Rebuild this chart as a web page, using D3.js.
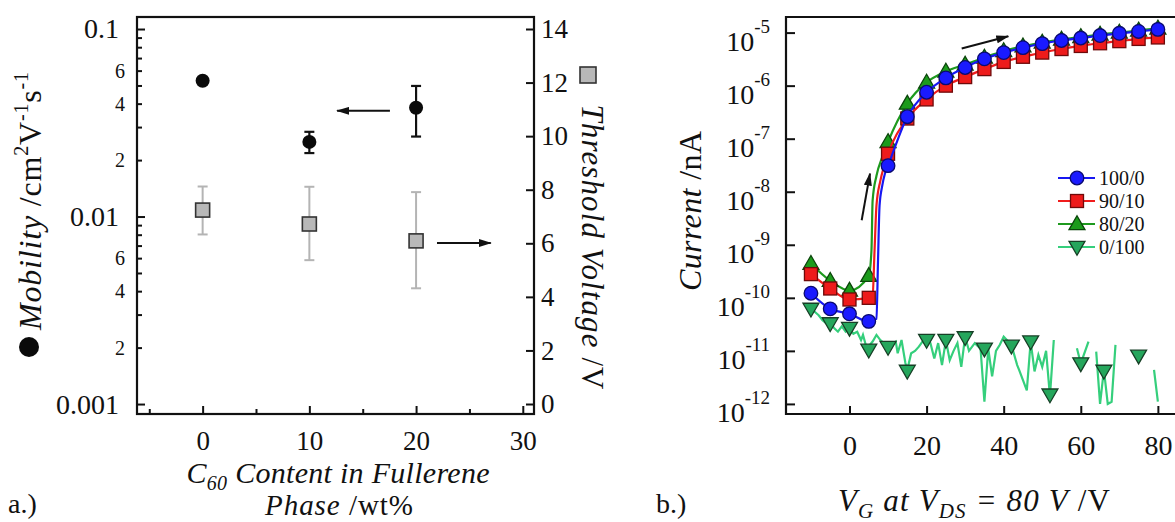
<!DOCTYPE html>
<html>
<head>
<meta charset="utf-8">
<script src="https://cdn.jsdelivr.net/npm/d3@7"></script>
<style>
    body { margin: 0; background: #fff; }
    svg { display: block; font-family: "Liberation Serif", "DejaVu Serif", serif; }
</style>
</head>
<body>
<svg id="chart" width="1175" height="522"></svg>
<script>
// ---------- panel a: mobility / threshold vs C60 content ----------
const c60Content = [0, 10, 20];
const mobility = [0.053, 0.025, 0.038];
const mobilityLow = [null, 0.0218, 0.0267];
const mobilityHigh = [null, 0.0283, 0.0497];
const thresholdV = [7.24, 6.72, 6.09];
const thresholdLow = [6.33, 5.37, 4.32];
const thresholdHigh = [8.12, 8.11, 7.91];

const mobMajorTicks = [0.001, 0.01, 0.1];
const mobLabelledMinor = [0.002, 0.004, 0.006, 0.02, 0.04, 0.06];
const mobPlainMinor = [0.003, 0.005, 0.007, 0.008, 0.009, 0.03, 0.05, 0.07, 0.08, 0.09];
const vthTicks = [0, 2, 4, 6, 8, 10, 12, 14];
const c60Ticks = [0, 10, 20, 30];
const c60Minor = [-5, 5, 15, 25];

// annotation arrows (data coords): [x1, x2, y]
const mobArrow = [17.55, 12.6, 0.0366];
const vthArrow = [21.96, 27.0, 6.01];

// ---------- panel b: transfer curves ----------
const gateV = [-10, -5, 0, 5, 10, 15, 20, 25, 30, 35, 40, 45, 50, 55, 60, 65, 70, 75, 80];
const current100 = [1.22e-10, 6.2e-11, 5.0e-11, 3.6e-11, 3.1e-8, 2.6e-7, 7.5e-7, 1.4e-6, 2.2e-6, 3.2e-6,
    4.2e-6, 5.2e-6, 6.2e-6, 7.1e-6, 7.9e-6, 8.8e-6, 9.7e-6, 1.05e-5, 1.15e-5];
const current90 = [2.8e-10, 1.5e-10, 9.3e-11, 1.0e-10, 5.2e-8, 2.4e-7, 5.5e-7, 1.0e-6, 1.45e-6, 2.05e-6,
    2.8e-6, 3.5e-6, 4.2e-6, 4.9e-6, 5.6e-6, 6.3e-6, 6.9e-6, 7.6e-6, 8.1e-6];
const current80 = [4.4e-10, 2.1e-10, 1.37e-10, 2.6e-10, 8.7e-8, 4.6e-7, 1.15e-6, 1.85e-6, 2.5e-6, 3.4e-6,
    4.5e-6, 5.5e-6, 6.5e-6, 7.4e-6, 8.3e-6, 9.2e-6, 1.0e-5, 1.1e-5, 1.2e-5];

// extra line-only points in the switch-on region
const rise100V = [6, 7, 7.4, 7.8, 8.5, 9.2];
const rise100I = [3.8e-11, 4.0e-11, 5e-10, 5.5e-9, 1.3e-8, 2.2e-8];
const rise90V = [6, 6.5, 7, 8, 9];
const rise90I = [1.1e-10, 7.8e-10, 5.5e-9, 1.6e-8, 3.1e-8];
const rise80V = [5.7, 6, 7, 8.5];
const rise80I = [7.8e-10, 6.8e-9, 2e-8, 4.5e-8];

// 0/100 noisy trace (null = gap in the line)
const noiseV = [-10, -8, -7, -6, -5, -4, -3, -2, -1, 0, 1, 2, 3, 3.5, 4.5, 6, 7, 8, 10, 12, 12.5, 13.5, 14.5, 15,
    16, 17, 18, 19.5, 20, 21, 22, 23, 24, 25, 26, 27, 28, 29, 30, 31, 32.5, 34, 35, 36, 37, 38, 39, 40,
    42, 43.5, 44, 46, 47, 48, 49, 50, 51, 52, 53, 56, 59, 60, 62, 63, 64, 65, 66, 67, 68, 69, 72, 79, 80];
const noiseI = [6.3e-11, 4.7e-11, 3.8e-11, 3.3e-11, 3.3e-11, 2.7e-11, 2.3e-11, 2.9e-11, 2.3e-11, 2.7e-11,
    2.1e-11, 2.3e-11, 1.6e-11, 2.0e-11, 1.1e-11, 1.5e-11, 2.0e-11, 1.6e-11, 1.2e-11, 1.5e-11, 9.0e-12,
    1.6e-11, 5.9e-12, 4.4e-12, 9.0e-12, 1.0e-11, 1.2e-11, 1.7e-11, 1.6e-11, 1.4e-11, 7.2e-12, 1.4e-11,
    5.4e-12, 1.6e-11, 6.7e-12, 1.0e-11, 1.4e-11, 5.0e-12, 1.85e-11, 1.0e-11, 1.4e-11, 1.1e-11, 1.1e-12,
    1.1e-11, 3.3e-12, 1.0e-11, 1.3e-11, 1.85e-11, 1.3e-11, 5.4e-12, 4.4e-12, 1.8e-12, 1.5e-11, 4.1e-12,
    8.4e-12, 5.0e-12, 1.0e-11, 1.4e-12, 1.6e-11, null, 1.12e-11, 5.8e-12, 1.5e-11, null, 9.7e-12, 1.0e-12,
    4.4e-12, 1.0e-12, 1.1e-12, 1.3e-11, null, 4.4e-12, 1.1e-12];
const noiseMarkV = [-10, -5, 0, 5, 10, 15, 20, 25, 30, 35, 42, 47, 52, 60, 66, 75];
const noiseMarkI = [6.2e-11, 3.3e-11, 2.7e-11, 1.05e-11, 1.18e-11, 4.2e-12, 1.6e-11, 1.6e-11, 1.8e-11,
    1.1e-11, 1.25e-11, 1.5e-11, 1.5e-12, 5.8e-12, 4.2e-12, 8.1e-12];

const currentTicks = [1e-12, 1e-11, 1e-10, 1e-9, 1e-8, 1e-7, 1e-6, 1e-5];
const gateTicks = [0, 20, 40, 60, 80];
const legendLabels = ['100/0', '90/10', '80/20', '0/100'];

// arrows: [v1, i1, v2, i2]
const riseArrow = [3.16, 2.9e-9, 5.32, 2.2e-8];
const satArrow = [29.1, 5.0e-6, 41.2, 8.5e-6];

const svg = d3.select('#chart');

svg.append('defs').append('marker')
    .attr('id', 'arrow')
    .attr('markerUnits', 'userSpaceOnUse')
    .attr('markerWidth', 13).attr('markerHeight', 8)
    .attr('refX', 12).attr('refY', 4)
    .attr('orient', 'auto')
    .append('path').attr('d', 'M0,0 L13,4 L0,8 Z').attr('fill', '#111');

/** style an axis group: serif text, no domain line */
function styleAxis(g, size) {
    g.select('.domain').remove();
    g.attr('font-family', null).attr('font-size', size);
    g.selectAll('line').attr('stroke', '#111').attr('stroke-width', 2);
    g.selectAll('text').attr('fill', '#111');
}

// ================= panel a =================
const ax = d3.scaleLinear().domain([-6.15, 31.05]).range([137, 534]);
const ayMob = d3.scaleLog().domain([0.000885, 0.1159]).range([414, 17]);
const ayVth = d3.scaleLinear().domain([-0.373, 14.448]).range([414, 17]);

svg.append('g').attr('transform', 'translate(137,0)')
    .call(d3.axisLeft(ayMob).tickValues(mobMajorTicks).tickSizeInner(-8).tickSizeOuter(0)
        .tickPadding(18).tickFormat(d => String(d)))
    .call(g => styleAxis(g, 28));
svg.append('g').attr('transform', 'translate(137,0)')
    .call(d3.axisLeft(ayMob).tickValues(mobLabelledMinor).tickSizeInner(-5).tickSizeOuter(0)
        .tickPadding(12).tickFormat(d => String(Math.round(d / Math.pow(10, Math.floor(Math.log10(d) + 1e-9))))))
    .call(g => styleAxis(g, 20));
svg.append('g').attr('transform', 'translate(137,0)')
    .call(d3.axisLeft(ayMob).tickValues(mobPlainMinor).tickSizeInner(-5).tickSizeOuter(0).tickFormat(''))
    .call(g => styleAxis(g, 10));

svg.append('g').attr('transform', 'translate(534,0)')
    .call(d3.axisRight(ayVth).tickValues(vthTicks).tickSizeInner(-8).tickSizeOuter(0).tickPadding(7))
    .call(g => styleAxis(g, 27));

svg.append('g').attr('transform', 'translate(0,414)')
    .call(d3.axisBottom(ax).tickValues(c60Ticks).tickSizeInner(-8).tickSizeOuter(0).tickPadding(17))
    .call(g => styleAxis(g, 27));
svg.append('g').attr('transform', 'translate(0,414)')
    .call(d3.axisBottom(ax).tickValues(c60Minor).tickSizeInner(-5).tickSizeOuter(0).tickFormat(''))
    .call(g => styleAxis(g, 10));

// frame
svg.append('rect')
    .attr('x', ax.range()[0]).attr('y', ayMob.range()[1])
    .attr('width', ax.range()[1] - ax.range()[0])
    .attr('height', ayMob.range()[0] - ayMob.range()[1])
    .attr('fill', 'none').attr('stroke', '#111').attr('stroke-width', 2.2);

// threshold error bars + squares
let vthData = c60Content.map((c, i) => ({x: c, y: thresholdV[i], lo: thresholdLow[i], hi: thresholdHigh[i]}));
let vthG = svg.append('g');
vthG.selectAll('line.bar').data(vthData).enter().append('line')
    .attr('x1', d => ax(d.x)).attr('x2', d => ax(d.x))
    .attr('y1', d => ayVth(d.lo)).attr('y2', d => ayVth(d.hi))
    .attr('stroke', '#b4b4b4').attr('stroke-width', 2);
['lo', 'hi'].forEach(k => {
    vthG.selectAll('line.cap' + k).data(vthData).enter().append('line')
        .attr('x1', d => ax(d.x) - 5).attr('x2', d => ax(d.x) + 5)
        .attr('y1', d => ayVth(d[k])).attr('y2', d => ayVth(d[k]))
        .attr('stroke', '#b4b4b4').attr('stroke-width', 2);
});
vthG.selectAll('rect').data(vthData).enter().append('rect')
    .attr('x', d => ax(d.x) - 7).attr('y', d => ayVth(d.y) - 7)
    .attr('width', 14).attr('height', 14)
    .attr('fill', '#b8b8b8').attr('stroke', '#333').attr('stroke-width', 1.6);

// mobility error bars + circles
let mobData = c60Content.map((c, i) => ({x: c, y: mobility[i], lo: mobilityLow[i], hi: mobilityHigh[i]}));
let mobG = svg.append('g');
let mobErr = mobData.filter(d => d.lo != null);
mobG.selectAll('line.bar').data(mobErr).enter().append('line')
    .attr('x1', d => ax(d.x)).attr('x2', d => ax(d.x))
    .attr('y1', d => ayMob(d.lo)).attr('y2', d => ayMob(d.hi))
    .attr('stroke', '#111').attr('stroke-width', 2.2);
['lo', 'hi'].forEach(k => {
    mobG.selectAll('line.cap' + k).data(mobErr).enter().append('line')
        .attr('x1', d => ax(d.x) - 5).attr('x2', d => ax(d.x) + 5)
        .attr('y1', d => ayMob(d[k])).attr('y2', d => ayMob(d[k]))
        .attr('stroke', '#111').attr('stroke-width', 2.2);
});
mobG.selectAll('circle').data(mobData).enter().append('circle')
    .attr('cx', d => ax(d.x)).attr('cy', d => ayMob(d.y)).attr('r', 7)
    .attr('fill', '#0a0a0a');

// arrows
svg.append('line')
    .attr('x1', ax(mobArrow[0])).attr('x2', ax(mobArrow[1]))
    .attr('y1', ayMob(mobArrow[2])).attr('y2', ayMob(mobArrow[2]))
    .attr('stroke', '#111').attr('stroke-width', 2).attr('marker-end', 'url(#arrow)');
svg.append('line')
    .attr('x1', ax(vthArrow[0])).attr('x2', ax(vthArrow[1]))
    .attr('y1', ayVth(vthArrow[2])).attr('y2', ayVth(vthArrow[2]))
    .attr('stroke', '#111').attr('stroke-width', 2).attr('marker-end', 'url(#arrow)');

// axis titles panel a
let mobTitle = svg.append('text')
    .attr('transform', 'translate(41,201) rotate(-90)')
    .attr('text-anchor', 'middle').attr('font-size', 32).attr('fill', '#111')
    .attr('textLength', 258).attr('lengthAdjust', 'spacing');
mobTitle.append('tspan').attr('font-style', 'italic').text('Mobility');
mobTitle.append('tspan').text(' /cm');
mobTitle.append('tspan').attr('font-size', 20).attr('dy', -13).text('2');
mobTitle.append('tspan').attr('dy', 13).text('V');
mobTitle.append('tspan').attr('font-size', 20).attr('dy', -13).text('-1');
mobTitle.append('tspan').attr('dy', 13).text('s');
mobTitle.append('tspan').attr('font-size', 20).attr('dy', -13).text('-1');
svg.append('circle').attr('cx', 29).attr('cy', 347).attr('r', 10).attr('fill', '#0a0a0a');

let vthTitle = svg.append('text')
    .attr('transform', 'translate(582,247) rotate(90)')
    .attr('text-anchor', 'middle').attr('font-size', 31).attr('fill', '#111')
    .attr('textLength', 285).attr('lengthAdjust', 'spacing');
vthTitle.append('tspan').attr('font-style', 'italic').text('Threshold Voltage');
vthTitle.append('tspan').text(' /V');
svg.append('rect').attr('x', 580).attr('y', 67).attr('width', 16).attr('height', 16)
    .attr('fill', '#b8b8b8').attr('stroke', '#333').attr('stroke-width', 1.6);

let c60Title = svg.append('text').attr('x', 338).attr('y', 483)
    .attr('text-anchor', 'middle').attr('font-size', 30).attr('font-style', 'italic').attr('fill', '#111')
    .attr('textLength', 303).attr('lengthAdjust', 'spacing');
c60Title.append('tspan').text('C');
c60Title.append('tspan').attr('font-size', 20).attr('dy', 7).text('60');
c60Title.append('tspan').attr('dy', -7).text(' Content in Fullerene');
let c60Title2 = svg.append('text').attr('x', 339).attr('y', 515)
    .attr('text-anchor', 'middle').attr('font-size', 29).attr('fill', '#111')
    .attr('textLength', 148).attr('lengthAdjust', 'spacing');
c60Title2.append('tspan').attr('font-style', 'italic').text('Phase');
c60Title2.append('tspan').text(' /wt%');

svg.append('text').attr('x', 8).attr('y', 513).attr('font-size', 28).attr('fill', '#111').text('a.)');

// ================= panel b =================
const bx = d3.scaleLinear().domain([-16.47, 84.7]).range([786, 1176]);
const by = d3.scaleLog().domain([Math.pow(10, -12.19), Math.pow(10, -4.706)]).range([414, 17]);

svg.append('g').attr('transform', 'translate(786,0)')
    .call(d3.axisLeft(by).tickValues(currentTicks).tickSizeInner(-9).tickSizeOuter(0).tickFormat(''))
    .call(g => styleAxis(g, 10));
let yLabels = svg.append('g').attr('fill', '#111');
currentTicks.forEach(t => {
    let txt = yLabels.append('text').attr('x', 770).attr('y', by(t) + 18)
        .attr('text-anchor', 'end').attr('font-size', 28);
    txt.append('tspan').text('10');
    txt.append('tspan').attr('font-size', 19).attr('dy', -18).text(String(Math.round(Math.log10(t))));
});

svg.append('g').attr('transform', 'translate(0,414)')
    .call(d3.axisBottom(bx).tickValues(gateTicks).tickSizeInner(-8).tickSizeOuter(0).tickPadding(21))
    .call(g => styleAxis(g, 28));

svg.append('path')
    .attr('d', `M1176,${by.range()[1]} H${bx.range()[0]} V${by.range()[0]} H1176`)
    .attr('fill', 'none').attr('stroke', '#111').attr('stroke-width', 2.2);

let series = [
    {name: '80/20', i: current80, rv: rise80V, ri: rise80I, line: '#1e9a1e', fill: '#1c9b1c', edge: '#0b450b', shape: 'up'},
    {name: '90/10', i: current90, rv: rise90V, ri: rise90I, line: '#f01c1c', fill: '#ee1b1b', edge: '#6e0a0a', shape: 'square'},
    {name: '100/0', i: current100, rv: rise100V, ri: rise100I, line: '#1717f2', fill: '#1a1aff', edge: '#0a0a70', shape: 'circle'}
];

const line = d3.line().x(d => bx(d.v)).y(d => by(d.i)).curve(d3.curveMonotoneX);
const triUp = d3.symbol().type(d3.symbolTriangle).size(110);

function drawMarker(g, shape, fill, edge) {
    if (shape === 'circle') {
        g.append('circle').attr('r', 6.8);
    } else if (shape === 'square') {
        g.append('rect').attr('x', -6.5).attr('y', -6.5).attr('width', 13).attr('height', 13);
    } else if (shape === 'up') {
        g.append('path').attr('d', triUp()).attr('transform', 'translate(0,1)');
    } else {
        g.append('path').attr('d', triUp()).attr('transform', 'rotate(180) translate(0,1)');
    }
    g.selectAll('*').attr('fill', fill).attr('stroke', edge).attr('stroke-width', 1.3);
}

// 0/100 trace first
let noiseData = noiseV.map((v, k) => ({v: v, i: noiseI[k]}));
svg.append('path')
    .datum(noiseData)
    .attr('d', d3.line().defined(d => d.i != null).x(d => bx(d.v)).y(d => by(d.i)))
    .attr('fill', 'none').attr('stroke', '#35cf7c').attr('stroke-width', 2.2);
noiseMarkV.forEach((v, k) => {
    let g = svg.append('g').attr('transform', `translate(${bx(v)},${by(noiseMarkI[k])})`);
    drawMarker(g, 'down', '#25a65c', '#173f26');
});

series.forEach(s => {
    let pts = gateV.map((v, k) => ({v: v, i: s.i[k]}))
        .concat(s.rv.map((v, k) => ({v: v, i: s.ri[k]})))
        .sort((a, b) => a.v - b.v);
    svg.append('path').datum(pts).attr('d', line)
        .attr('fill', 'none').attr('stroke', s.line).attr('stroke-width', 2.2);
    gateV.forEach((v, k) => {
        let g = svg.append('g').attr('transform', `translate(${bx(v)},${by(s.i[k])})`);
        drawMarker(g, s.shape, s.fill, s.edge);
    });
});

// arrows panel b
svg.append('line')
    .attr('x1', bx(riseArrow[0])).attr('y1', by(riseArrow[1]))
    .attr('x2', bx(riseArrow[2])).attr('y2', by(riseArrow[3]))
    .attr('stroke', '#111').attr('stroke-width', 2).attr('marker-end', 'url(#arrow)');
svg.append('line')
    .attr('x1', bx(satArrow[0])).attr('y1', by(satArrow[1]))
    .attr('x2', bx(satArrow[2])).attr('y2', by(satArrow[3]))
    .attr('stroke', '#111').attr('stroke-width', 2).attr('marker-end', 'url(#arrow)');

// legend
let legendStyle = [
    {shape: 'circle', line: '#1717f2', fill: '#1a1aff', edge: '#0a0a70'},
    {shape: 'square', line: '#f01c1c', fill: '#ee1b1b', edge: '#6e0a0a'},
    {shape: 'up', line: '#1e9a1e', fill: '#1c9b1c', edge: '#0b450b'},
    {shape: 'down', line: '#35cf7c', fill: '#25a65c', edge: '#173f26'}
];
let legend = svg.append('g').attr('transform', 'translate(1058,178)');
legendLabels.forEach((lab, k) => {
    let row = legend.append('g').attr('transform', `translate(0,${k * 23})`);
    row.append('line').attr('x1', 0).attr('x2', 37).attr('y1', 0).attr('y2', 0)
        .attr('stroke', legendStyle[k].line).attr('stroke-width', 2.2);
    drawMarker(row.append('g').attr('transform', 'translate(19,0)'),
        legendStyle[k].shape, legendStyle[k].fill, legendStyle[k].edge);
    row.append('text').attr('x', 41).attr('y', 7).attr('font-size', 20).attr('fill', '#111').text(lab);
});

// axis titles panel b
let curTitle = svg.append('text')
    .attr('transform', 'translate(701,211) rotate(-90)')
    .attr('text-anchor', 'middle').attr('font-size', 32).attr('fill', '#111')
    .attr('textLength', 160).attr('lengthAdjust', 'spacing');
curTitle.append('tspan').attr('font-style', 'italic').text('Current');
curTitle.append('tspan').text(' /nA');

let vgTitle = svg.append('text').attr('x', 974).attr('y', 511)
    .attr('text-anchor', 'middle').attr('font-size', 31).attr('fill', '#111')
    .attr('textLength', 272).attr('lengthAdjust', 'spacing');
vgTitle.append('tspan').attr('font-style', 'italic').text('V');
vgTitle.append('tspan').attr('font-style', 'italic').attr('font-size', 21).attr('dy', 7).text('G');
vgTitle.append('tspan').attr('font-style', 'italic').attr('dy', -7).text(' at V');
vgTitle.append('tspan').attr('font-style', 'italic').attr('font-size', 21).attr('dy', 7).text('DS');
vgTitle.append('tspan').attr('font-style', 'italic').attr('dy', -7).text(' = 80 V');
vgTitle.append('tspan').text(' /V');

svg.append('text').attr('x', 656).attr('y', 513).attr('font-size', 28).attr('fill', '#111').text('b.)');
</script>
</body>
</html>
